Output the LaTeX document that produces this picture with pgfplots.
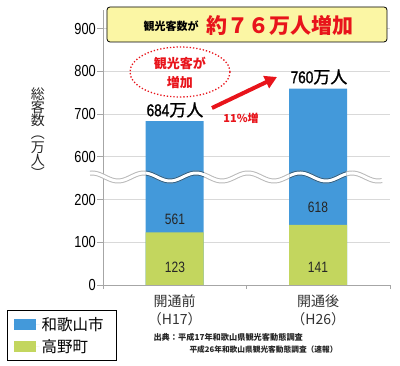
\documentclass[border=0pt]{standalone}
\usepackage{fontspec}
\usepackage{pgfplots}
\pgfplotsset{compat=1.18}
\usetikzlibrary{arrows.meta}
\setmainfont{Noto Sans CJK JP}
\newfontfamily\numfont[FakeStretch=0.8]{Liberation Sans}
\newfontfamily\numfontb[FakeStretch=0.8,FakeBold=1.2]{Liberation Sans}
\newfontfamily\cjkmed[FakeBold=1.2]{Noto Sans CJK JP}
\definecolor{cblue}{HTML}{4399DA}
\definecolor{cgreen}{HTML}{C3D65E}
\definecolor{cred}{HTML}{E8141B}
\definecolor{cyel}{HTML}{FBF6A4}
\begin{document}
\begin{tikzpicture}[x=1pt,y=1pt]
\begin{axis}[
  scale only axis, width=287pt, height=275pt,
  xmin=-0.5, xmax=1.5, ymin=0, ymax=944,
  y coord trafo/.code={\pgfmathparse{#1>400?#1-300:#1}},
  y coord inv trafo/.code={\pgfmathparse{#1>250?#1+300:#1}},
  axis x line*=bottom, axis y line*=left,
  axis line style={gray!70, line width=0.8pt},
  ytick={0,100,200,600,700,800,900},
  yticklabels={0,100,200,600,700,800,900},
  ymajorgrids, grid style={gray!30, line width=0.8pt},
  tick align=outside, major tick length=6pt,
  tick style={gray!70, line width=0.8pt},
  yticklabel style={font=\numfont\fontsize{16}{16}\selectfont, inner sep=1pt},
  /pgf/number format/assume math mode=true,
  xtick={0,1},
  xticklabels={{開通前\\（H17）},{開通後\\（H26）}},
  xticklabel style={align=center, font=\fontsize{14}{18}\selectfont, text=black!80},
  major x tick style={draw=none},
  minor xtick={-0.5,0.5,1.5}, minor tick length=4pt,
  legend style={at={(axis description cs:-0.334,-0.0909)}, anchor=north west,
    draw=black, line width=0.8pt, font=\fontsize{15.5}{15.5}\selectfont,
    row sep=3pt, inner xsep=6pt, inner ysep=5pt},
  legend cell align=left,
]
\addplot[ybar, bar width=58pt, bar shift=0pt, fill=cblue, draw=none,
  legend image code/.code={\path (0pt,0pt) -- (26pt,0pt); \fill[cblue] (0pt,-5.5pt) rectangle (22pt,5.5pt);}]
  coordinates {(0,684) (1,760)};
\addlegendentry{和歌山市\kern5pt}
\addplot[ybar, bar width=58pt, bar shift=0pt, fill=cgreen, draw=none,
  legend image code/.code={\path (0pt,0pt) -- (26pt,0pt); \fill[cgreen] (0pt,-5.5pt) rectangle (22pt,5.5pt);}]
  coordinates {(0,123) (1,141)};
\addlegendentry{高野町}
\coordinate (O) at (rel axis cs:0,0);
\end{axis}
\begin{scope}[shift={(O)}, xshift=-103pt, yshift=-81pt]
% broken axis wave
\draw[gray!55, line width=5pt] plot[domain=90:382, samples=150, smooth] (\x, {189 - 4*cos(6.923*(\x-170))});
\draw[white, line width=3pt] plot[domain=88:384, samples=150, smooth] (\x, {189 - 4*cos(6.923*(\x-170))});
\begin{scope}
\clip (146,170) rectangle (204,206) (289.5,170) rectangle (346.5,206);
\draw[cblue!60!black, line width=5pt] plot[domain=140:352, samples=120, smooth] (\x, {189 - 4*cos(6.923*(\x-170))});
\draw[white, line width=3pt] plot[domain=140:352, samples=120, smooth] (\x, {189 - 4*cos(6.923*(\x-170))});
\end{scope}
% value labels
\node[font=\numfont\fontsize{15}{15}\selectfont, text=black!85] at (175,147) {561};
\node[font=\numfont\fontsize{15}{15}\selectfont, text=black!85] at (318,159) {618};
\node[font=\numfont\fontsize{15}{15}\selectfont, text=black!85] at (175,99) {123};
\node[font=\numfont\fontsize{15}{15}\selectfont, text=black!85] at (318,99) {141};
\node[font=\cjkmed\fontsize{17}{17}\selectfont] at (175,256) {{\numfontb 684}万人};
\node[font=\cjkmed\fontsize{17}{17}\selectfont] at (319,289) {{\numfontb 760}万人};
% title box
\draw[fill=cyel, rounded corners=3pt, line width=0.8pt] (107,359) rectangle (387,324);
\node[anchor=west, font=\bfseries\fontsize{11}{11}\selectfont] at (140,340) {観光客数が};
\node[anchor=west, text=cred, font=\bfseries\fontsize{21}{21}\selectfont] at (203,341) {約７６万人増加};
% ellipse
\draw[cred, dotted, line width=1.3pt] (180,294) ellipse (50 and 25);
\node[text=cred, font=\bfseries\fontsize{13}{13}\selectfont] at (180,303) {観光客が};
\node[text=cred, font=\bfseries\fontsize{13}{13}\selectfont] at (180,283) {増加};
% arrow
\draw[cred, line width=4pt, -{Triangle[length=12pt,width=13pt]}] (212,258) -- (277,289);
\node[text=cred, font=\bfseries\fontsize{11}{11}\selectfont] at (241,248) {11\%増};
% y label
\node[align=center, font=\fontsize{14}{13.2}\selectfont, text=black!85] at (38,233) {総\\客\\数\\︵\\万\\人\\︶};
% source
\node[anchor=west, font=\bfseries\fontsize{8.2}{8.2}\selectfont, text=black!85] at (150,29) {出典：平成17年和歌山県観光客動態調査};
\node[anchor=west, font=\bfseries\fontsize{7.7}{7.7}\selectfont, text=black!85] at (186,16) {平成26年和歌山県観光客動態調査（速報）};
\pgfresetboundingbox
\useasboundingbox (0,0) rectangle (400,366);
\end{scope}
\end{tikzpicture}
\end{document}
